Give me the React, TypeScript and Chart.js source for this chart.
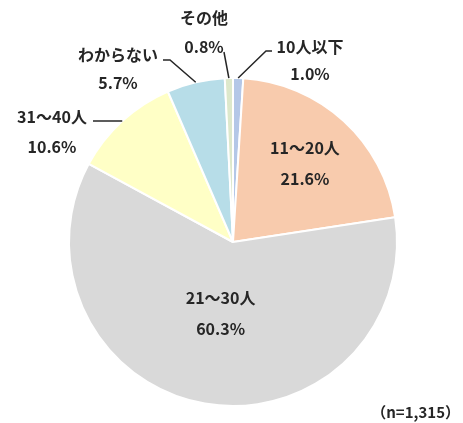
import React, { useEffect, useRef } from "react";
import { Chart, registerables } from "chart.js";

Chart.register(...registerables);

const categories = ["10人以下", "11～20人", "21～30人", "31～40人", "わからない", "その他"];
const values = [1.0, 21.6, 60.3, 10.6, 5.7, 0.8];
const valueLabels = ["1.0%", "21.6%", "60.3%", "10.6%", "5.7%", "0.8%"];
const colors = ["#b4c7e7", "#f8cbad", "#d9d9d9", "#ffffc6", "#b7dde8", "#dde8cb"];
const noteText = "（n=1,315）";

// label layout: inside (fraction of radius) or outside (text centre + leader elbow)
type Lay =
  | { kind: "in"; f: number }
  | { kind: "out"; x: number; y1: number; y2: number; lx: number; ly: number; ex?: number };
const layouts: Lay[] = [
  { kind: "out", x: 310, y1: 47, y2: 74, lx: 272, ly: 51, ex: 266 },
  { kind: "in", f: 0.65 },
  { kind: "in", f: 0.44 },
  { kind: "out", x: 52, y1: 117, y2: 147, lx: 93, ly: 121 },
  { kind: "out", x: 118, y1: 55, y2: 83, lx: 163, ly: 60, ex: 170 },
  { kind: "out", x: 204, y1: 18, y2: 47, lx: 224, ly: 52 },
];

const FONT = 'bold 16px "Noto Sans CJK JP", "Noto Sans", sans-serif';

const labelPlugin = {
  id: "pieLabels",
  afterDraw(chart: any) {
    const ctx = chart.ctx;
    const meta = chart.getDatasetMeta(0);
    ctx.save();
    ctx.font = FONT;
    ctx.fillStyle = "#262626";
    ctx.textAlign = "center";
    ctx.textBaseline = "middle";
    meta.data.forEach((arc: any, i: number) => {
      const p = arc.getProps(["x", "y", "startAngle", "endAngle", "outerRadius"], true);
      const mid = (p.startAngle + p.endAngle) / 2;
      const lay = layouts[i];
      if (lay.kind === "in") {
        const r = p.outerRadius * lay.f;
        const cx = p.x + Math.cos(mid) * r;
        const cy = p.y + Math.sin(mid) * r;
        ctx.fillText(categories[i], cx, cy - 15);
        ctx.fillText(valueLabels[i], cx, cy + 16);
      } else {
        ctx.fillText(categories[i], lay.x, lay.y1);
        ctx.fillText(valueLabels[i], lay.x, lay.y2);
        const ex = p.x + Math.cos(mid) * p.outerRadius;
        const ey = p.y + Math.sin(mid) * p.outerRadius;
        ctx.beginPath();
        ctx.strokeStyle = "#262626";
        ctx.lineWidth = 1.5;
        ctx.moveTo(lay.lx, lay.ly);
        if (lay.ex !== undefined) ctx.lineTo(lay.ex, lay.ly);
        ctx.lineTo(ex, ey);
        ctx.stroke();
      }
    });
    ctx.font = 'bold 15px "Noto Sans CJK JP", "Noto Sans", sans-serif';
    ctx.textAlign = "right";
    ctx.fillText(noteText, 460, 412);
    ctx.restore();
  },
};

export default function App() {
  const ref = useRef<HTMLCanvasElement>(null);
  useEffect(() => {
    document.body.style.margin = "0";
    const chart = new Chart(ref.current!, {
      type: "pie",
      data: {
        labels: categories,
        datasets: [
          {
            data: values,
            backgroundColor: colors,
            borderColor: "#ffffff",
            borderWidth: 2,
          },
        ],
      },
      options: {
        responsive: false,
        animation: false,
        layout: { padding: { left: 68, right: 65, top: 77, bottom: 16 } },
        plugins: {
          legend: { display: false },
          tooltip: { enabled: false },
        },
      },
      plugins: [labelPlugin],
    });
    return () => chart.destroy();
  }, []);
  return (
    <div style={{ width: 463, height: 423, background: "#fff" }}>
      <canvas ref={ref} width={463} height={423} />
    </div>
  );
}
